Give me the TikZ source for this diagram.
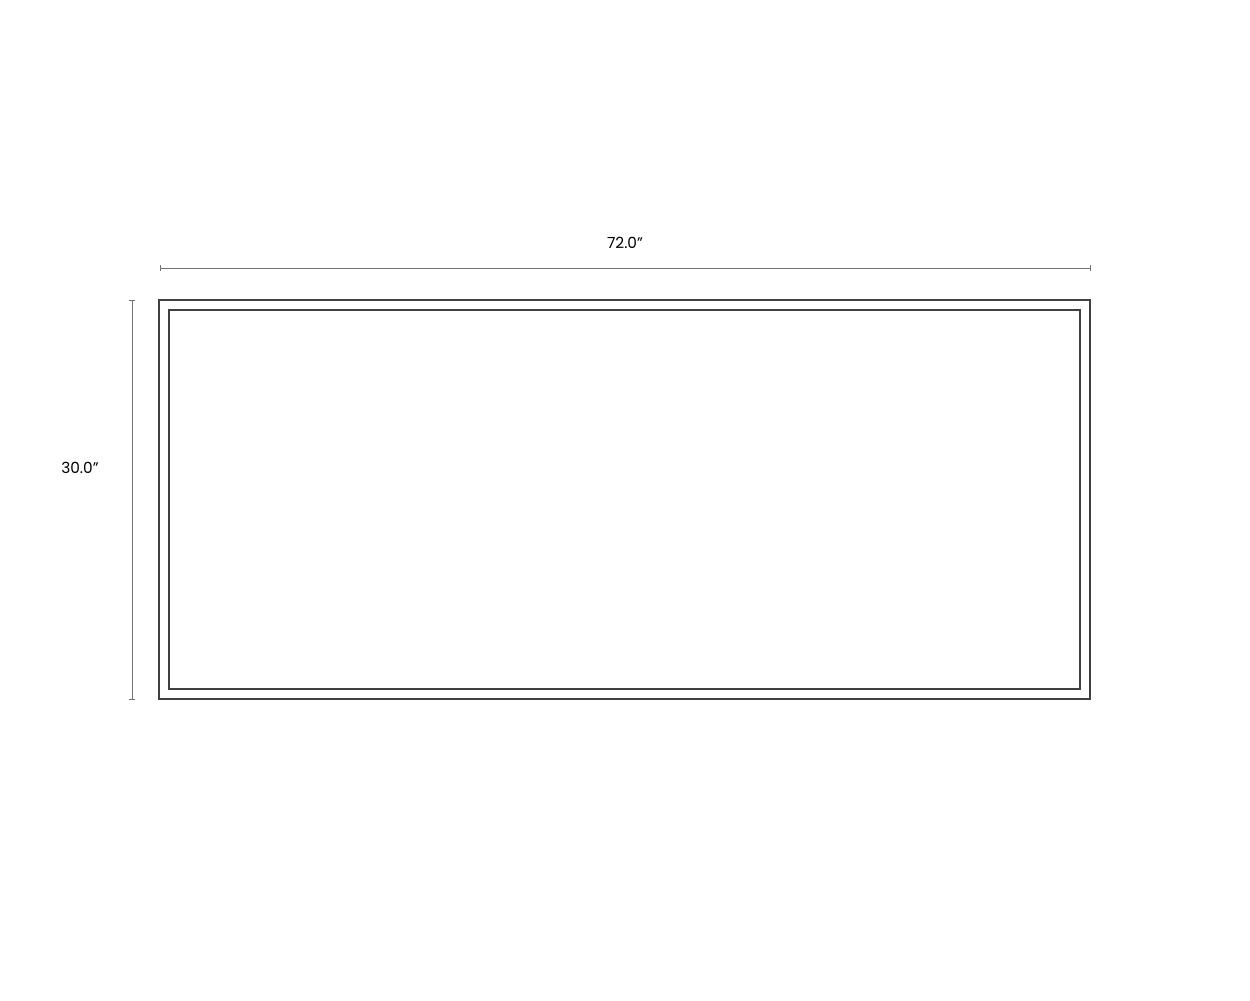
\documentclass[tikz,border=0pt]{standalone}
\usepackage{fontspec}
\setmainfont{Poppins}
\begin{document}
\begin{tikzpicture}[x=0.75pt,y=-0.75pt,
  frame/.style={draw=black!75,line width=0.95pt},
  dimline/.style={draw=black!55,line width=0.7pt},
  dimtick/.style={draw=black!55,line width=0.7pt},
  dimlabel/.style={font=\fontsize{11.5}{13}\selectfont,text=black}]
\useasboundingbox (0,0) rectangle (1250,1000);
% outer and inner frames
\draw[frame] (159,300) rectangle (1090,699);
\draw[frame] (169,310) rectangle (1080,689);
% horizontal dimension
\coordinate (hl) at (160,268);
\coordinate (hr) at (1090,268);
\draw[dimline] (hl) -- (hr);
\draw[dimtick] (160,265) -- (160,271);
\draw[dimtick] (1090,265) -- (1090,271);
\node[dimlabel] (wlab) at (625,243) {72.0"};
% vertical dimension
\coordinate (vt) at (132,300);
\coordinate (vb) at (132,699);
\draw[dimline] (vt) -- (vb);
\draw[dimtick] (129,300) -- (135,300);
\draw[dimtick] (129,699) -- (135,699);
\node[dimlabel] (hlab) at (80,468) {30.0"};
\end{tikzpicture}
\end{document}
